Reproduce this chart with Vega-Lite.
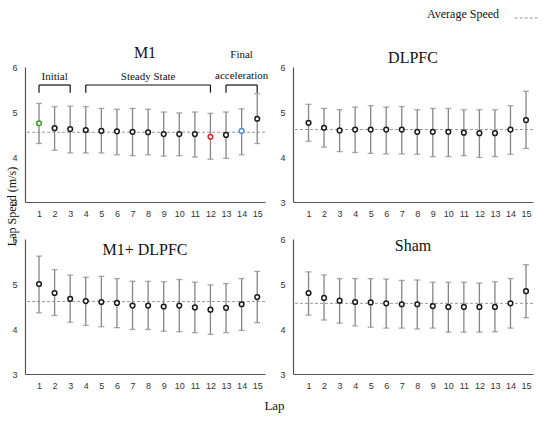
{
  "$schema": "https://vega.github.io/schema/vega-lite/v6.json",
  "description": "Lap speed (mean and SD) over 15 laps for four stimulation conditions.",
  "background": "white",
  "datasets": {
    "laps": [
      {"group": "M1", "lap": 1, "mean": 4.75, "low": 4.30, "high": 5.19, "highlight": "first"},
      {"group": "M1", "lap": 2, "mean": 4.64, "low": 4.15, "high": 5.12, "highlight": "none"},
      {"group": "M1", "lap": 3, "mean": 4.62, "low": 4.09, "high": 5.13, "highlight": "none"},
      {"group": "M1", "lap": 4, "mean": 4.60, "low": 4.09, "high": 5.12, "highlight": "none"},
      {"group": "M1", "lap": 5, "mean": 4.58, "low": 4.09, "high": 5.08, "highlight": "none"},
      {"group": "M1", "lap": 6, "mean": 4.57, "low": 4.05, "high": 5.06, "highlight": "none"},
      {"group": "M1", "lap": 7, "mean": 4.56, "low": 4.03, "high": 5.08, "highlight": "none"},
      {"group": "M1", "lap": 8, "mean": 4.55, "low": 4.05, "high": 5.06, "highlight": "none"},
      {"group": "M1", "lap": 9, "mean": 4.51, "low": 4.02, "high": 5.00, "highlight": "none"},
      {"group": "M1", "lap": 10, "mean": 4.51, "low": 4.03, "high": 4.98, "highlight": "none"},
      {"group": "M1", "lap": 11, "mean": 4.51, "low": 4.00, "high": 5.00, "highlight": "none"},
      {"group": "M1", "lap": 12, "mean": 4.45, "low": 3.95, "high": 4.97, "highlight": "slowest"},
      {"group": "M1", "lap": 13, "mean": 4.49, "low": 3.97, "high": 5.00, "highlight": "none"},
      {"group": "M1", "lap": 14, "mean": 4.58, "low": 4.05, "high": 5.07, "highlight": "final"},
      {"group": "M1", "lap": 15, "mean": 4.85, "low": 4.30, "high": 5.41, "highlight": "none"},

      {"group": "DLPFC", "lap": 1, "mean": 4.76, "low": 4.35, "high": 5.17, "highlight": "none"},
      {"group": "DLPFC", "lap": 2, "mean": 4.65, "low": 4.22, "high": 5.08, "highlight": "none"},
      {"group": "DLPFC", "lap": 3, "mean": 4.59, "low": 4.12, "high": 5.05, "highlight": "none"},
      {"group": "DLPFC", "lap": 4, "mean": 4.61, "low": 4.10, "high": 5.11, "highlight": "none"},
      {"group": "DLPFC", "lap": 5, "mean": 4.61, "low": 4.08, "high": 5.14, "highlight": "none"},
      {"group": "DLPFC", "lap": 6, "mean": 4.61, "low": 4.07, "high": 5.11, "highlight": "none"},
      {"group": "DLPFC", "lap": 7, "mean": 4.61, "low": 4.07, "high": 5.12, "highlight": "none"},
      {"group": "DLPFC", "lap": 8, "mean": 4.56, "low": 4.06, "high": 5.05, "highlight": "none"},
      {"group": "DLPFC", "lap": 9, "mean": 4.56, "low": 4.01, "high": 5.08, "highlight": "none"},
      {"group": "DLPFC", "lap": 10, "mean": 4.56, "low": 4.01, "high": 5.08, "highlight": "none"},
      {"group": "DLPFC", "lap": 11, "mean": 4.54, "low": 4.03, "high": 5.05, "highlight": "none"},
      {"group": "DLPFC", "lap": 12, "mean": 4.53, "low": 3.99, "high": 5.05, "highlight": "none"},
      {"group": "DLPFC", "lap": 13, "mean": 4.53, "low": 4.01, "high": 5.05, "highlight": "none"},
      {"group": "DLPFC", "lap": 14, "mean": 4.61, "low": 4.06, "high": 5.14, "highlight": "none"},
      {"group": "DLPFC", "lap": 15, "mean": 4.82, "low": 4.19, "high": 5.46, "highlight": "none"},

      {"group": "M1+ DLPFC", "lap": 1, "mean": 5.00, "low": 4.36, "high": 5.62, "highlight": "none"},
      {"group": "M1+ DLPFC", "lap": 2, "mean": 4.80, "low": 4.30, "high": 5.32, "highlight": "none"},
      {"group": "M1+ DLPFC", "lap": 3, "mean": 4.67, "low": 4.15, "high": 5.20, "highlight": "none"},
      {"group": "M1+ DLPFC", "lap": 4, "mean": 4.62, "low": 4.08, "high": 5.15, "highlight": "none"},
      {"group": "M1+ DLPFC", "lap": 5, "mean": 4.60, "low": 4.05, "high": 5.17, "highlight": "none"},
      {"group": "M1+ DLPFC", "lap": 6, "mean": 4.58, "low": 4.03, "high": 5.12, "highlight": "none"},
      {"group": "M1+ DLPFC", "lap": 7, "mean": 4.52, "low": 3.99, "high": 5.06, "highlight": "none"},
      {"group": "M1+ DLPFC", "lap": 8, "mean": 4.52, "low": 3.99, "high": 5.06, "highlight": "none"},
      {"group": "M1+ DLPFC", "lap": 9, "mean": 4.50, "low": 3.95, "high": 5.05, "highlight": "none"},
      {"group": "M1+ DLPFC", "lap": 10, "mean": 4.52, "low": 3.94, "high": 5.10, "highlight": "none"},
      {"group": "M1+ DLPFC", "lap": 11, "mean": 4.48, "low": 3.92, "high": 5.04, "highlight": "none"},
      {"group": "M1+ DLPFC", "lap": 12, "mean": 4.43, "low": 3.88, "high": 4.98, "highlight": "none"},
      {"group": "M1+ DLPFC", "lap": 13, "mean": 4.47, "low": 3.92, "high": 5.01, "highlight": "none"},
      {"group": "M1+ DLPFC", "lap": 14, "mean": 4.55, "low": 3.97, "high": 5.12, "highlight": "none"},
      {"group": "M1+ DLPFC", "lap": 15, "mean": 4.71, "low": 4.14, "high": 5.28, "highlight": "none"},

      {"group": "Sham", "lap": 1, "mean": 4.80, "low": 4.31, "high": 5.27, "highlight": "none"},
      {"group": "Sham", "lap": 2, "mean": 4.69, "low": 4.20, "high": 5.20, "highlight": "none"},
      {"group": "Sham", "lap": 3, "mean": 4.63, "low": 4.13, "high": 5.12, "highlight": "none"},
      {"group": "Sham", "lap": 4, "mean": 4.60, "low": 4.07, "high": 5.12, "highlight": "none"},
      {"group": "Sham", "lap": 5, "mean": 4.59, "low": 4.04, "high": 5.12, "highlight": "none"},
      {"group": "Sham", "lap": 6, "mean": 4.57, "low": 4.02, "high": 5.11, "highlight": "none"},
      {"group": "Sham", "lap": 7, "mean": 4.55, "low": 4.02, "high": 5.08, "highlight": "none"},
      {"group": "Sham", "lap": 8, "mean": 4.55, "low": 4.00, "high": 5.09, "highlight": "none"},
      {"group": "Sham", "lap": 9, "mean": 4.51, "low": 4.02, "high": 5.04, "highlight": "none"},
      {"group": "Sham", "lap": 10, "mean": 4.49, "low": 3.93, "high": 5.04, "highlight": "none"},
      {"group": "Sham", "lap": 11, "mean": 4.49, "low": 3.93, "high": 5.04, "highlight": "none"},
      {"group": "Sham", "lap": 12, "mean": 4.49, "low": 3.93, "high": 5.02, "highlight": "none"},
      {"group": "Sham", "lap": 13, "mean": 4.49, "low": 3.94, "high": 5.05, "highlight": "none"},
      {"group": "Sham", "lap": 14, "mean": 4.57, "low": 4.02, "high": 5.12, "highlight": "none"},
      {"group": "Sham", "lap": 15, "mean": 4.84, "low": 4.25, "high": 5.43, "highlight": "none"}
    ],
    "avg": [
      {"group": "M1", "speed": 4.55},
      {"group": "DLPFC", "speed": 4.61},
      {"group": "M1+ DLPFC", "speed": 4.61},
      {"group": "Sham", "speed": 4.57}
    ],
    "phases": [
      {"phase": "Initial", "start": 1, "end": 3, "center": 2, "line1": "Initial", "line2": ""},
      {"phase": "Steady State", "start": 4, "end": 12, "center": 8, "line1": "Steady State", "line2": ""},
      {"phase": "Final acceleration", "start": 13, "end": 15, "center": 14, "line1": "Final", "line2": "acceleration"}
    ]
  },
  "title": {
    "text": "Lap",
    "orient": "bottom",
    "anchor": "middle",
    "font": "Liberation Serif",
    "fontSize": 13,
    "fontWeight": "normal",
    "color": "#111",
    "offset": 10
  },
  "columns": 2,
  "spacing": {"row": 37, "column": 28},
  "bounds": "flush",
  "resolve": {"scale": {"strokeDash": "shared", "color": "shared"}, "legend": {"strokeDash": "shared"}},
  "concat": [
    {
      "width": 240,
      "height": 135,
      "title": {"text": "M1", "offset": -12},
      "layer": [
        {
          "data": {"name": "avg"},
          "transform": [{"filter": "datum.group == 'M1'"}],
          "mark": {"type": "rule", "color": "#9a9a9a", "strokeWidth": 1},
          "encoding": {
            "y": {"field": "speed", "type": "quantitative", "title": "Lap Speed (m/s)", "scale": {"domain": [3, 6]},
                  "axis": {"values": [3, 4, 5, 6], "title": "Lap Speed (m/s)", "titleFontSize": 12, "titleX": -14, "titleY": 139, "titleAngle": -90, "titleBaseline": "middle", "titleAnchor": "middle"}},
            "strokeDash": {"datum": "Average Speed", "type": "nominal", "scale": {"domain": ["Average Speed"], "range": [[3, 2]]},
                           "legend": {"title": "Average Speed", "titleOrient": "left", "labelExpr": "''", "orient": "none", "legendX": 402, "legendY": -62}}
          }
        },
        {
          "data": {"name": "laps"},
          "transform": [{"filter": "datum.group == 'M1'"}],
          "mark": {"type": "errorbar", "orient": "vertical", "color": "#858585", "thickness": 1.3, "ticks": {"size": 6, "color": "#858585", "thickness": 1.3}},
          "encoding": {
            "x": {"field": "lap", "type": "quantitative", "scale": {"domain": [0.1, 15.5], "nice": false},
                  "axis": {"title": null, "tickCount": 15, "labelOverlap": false, "values": [1, 2, 3, 4, 5, 6, 7, 8, 9, 10, 11, 12, 13, 14, 15]}},
            "y": {"field": "low", "type": "quantitative", "title": "Lap Speed (m/s)", "scale": {"domain": [3, 6]}},
            "y2": {"field": "high"}
          }
        },
        {
          "data": {"name": "laps"},
          "transform": [{"filter": "datum.group == 'M1'"}],
          "mark": {"type": "point", "filled": false, "fill": "white", "fillOpacity": 1, "size": 22, "strokeWidth": 1.5, "opacity": 1},
          "encoding": {
            "x": {"field": "lap", "type": "quantitative"},
            "y": {"field": "mean", "type": "quantitative", "title": "Lap Speed (m/s)"},
            "stroke": {"field": "highlight", "type": "nominal", "legend": null,
                       "scale": {"domain": ["none", "first", "slowest", "final"], "range": ["#1a1a1a", "#3f9a2c", "#e3262b", "#4a93d6"]}}
          }
        },
        {
          "data": {"name": "phases"},
          "mark": {"type": "rule", "color": "#111", "strokeWidth": 1.2},
          "encoding": {
            "x": {"field": "start", "type": "quantitative"},
            "x2": {"field": "end"},
            "y": {"datum": 5.6}
          }
        },
        {
          "data": {"name": "phases"},
          "transform": [{"fold": ["start", "end"], "as": ["side", "pos"]}],
          "mark": {"type": "rule", "color": "#111", "strokeWidth": 1.2},
          "encoding": {
            "x": {"field": "pos", "type": "quantitative"},
            "y": {"datum": 5.6},
            "y2": {"datum": 5.43}
          }
        },
        {
          "data": {"name": "phases"},
          "transform": [{"filter": "datum.line2 == ''"}],
          "mark": {"type": "text", "font": "Liberation Serif", "fontSize": 11, "color": "#111", "baseline": "bottom", "dy": -3},
          "encoding": {
            "x": {"field": "center", "type": "quantitative"},
            "y": {"datum": 5.6},
            "text": {"field": "line1"}
          }
        },
        {
          "data": {"name": "phases"},
          "transform": [{"filter": "datum.line2 != ''"}],
          "mark": {"type": "text", "font": "Liberation Serif", "fontSize": 11, "color": "#111", "baseline": "bottom", "dy": -4},
          "encoding": {
            "x": {"field": "center", "type": "quantitative"},
            "y": {"datum": 5.6},
            "text": {"field": "line2"}
          }
        },
        {
          "data": {"name": "phases"},
          "transform": [{"filter": "datum.line2 != ''"}],
          "mark": {"type": "text", "font": "Liberation Serif", "fontSize": 11, "color": "#111", "baseline": "bottom", "dy": -25},
          "encoding": {
            "x": {"field": "center", "type": "quantitative"},
            "y": {"datum": 5.6},
            "text": {"field": "line1"}
          }
        }
      ]
    },
    {
      "width": 240,
      "height": 135,
      "title": {"text": "DLPFC", "offset": -3},
      "layer": [
        {
          "data": {"name": "avg"},
          "transform": [{"filter": "datum.group == 'DLPFC'"}],
          "mark": {"type": "rule", "color": "#9a9a9a", "strokeWidth": 1},
          "encoding": {
            "y": {"field": "speed", "type": "quantitative", "title": null, "scale": {"domain": [3, 6]}, "axis": {"title": null, "values": [3, 4, 5, 6]}},
            "strokeDash": {"datum": "Average Speed", "type": "nominal", "scale": {"domain": ["Average Speed"], "range": [[3, 2]]},
                           "legend": {"title": "Average Speed", "titleOrient": "left", "labelExpr": "''", "orient": "none", "legendX": 402, "legendY": -62}}
          }
        },
        {
          "data": {"name": "laps"},
          "transform": [{"filter": "datum.group == 'DLPFC'"}],
          "mark": {"type": "errorbar", "orient": "vertical", "color": "#858585", "thickness": 1.3, "ticks": {"size": 6, "color": "#858585", "thickness": 1.3}},
          "encoding": {
            "x": {"field": "lap", "type": "quantitative", "scale": {"domain": [0, 15.45], "nice": false},
                  "axis": {"title": null, "tickCount": 15, "labelOverlap": false, "values": [1, 2, 3, 4, 5, 6, 7, 8, 9, 10, 11, 12, 13, 14, 15]}},
            "y": {"field": "low", "type": "quantitative", "title": null, "scale": {"domain": [3, 6]}},
            "y2": {"field": "high"}
          }
        },
        {
          "data": {"name": "laps"},
          "transform": [{"filter": "datum.group == 'DLPFC'"}],
          "mark": {"type": "point", "filled": false, "fill": "white", "fillOpacity": 1, "size": 22, "strokeWidth": 1.5, "opacity": 1},
          "encoding": {
            "x": {"field": "lap", "type": "quantitative"},
            "y": {"field": "mean", "type": "quantitative", "title": null},
            "stroke": {"field": "highlight", "type": "nominal", "legend": null,
                       "scale": {"domain": ["none", "first", "slowest", "final"], "range": ["#1a1a1a", "#3f9a2c", "#e3262b", "#4a93d6"]}}
          }
        }
      ]
    },
    {
      "width": 240,
      "height": 135,
      "title": {"text": "M1+ DLPFC", "offset": -23},
      "layer": [
        {
          "data": {"name": "avg"},
          "transform": [{"filter": "datum.group == 'M1+ DLPFC'"}],
          "mark": {"type": "rule", "color": "#9a9a9a", "strokeWidth": 1},
          "encoding": {
            "y": {"field": "speed", "type": "quantitative", "title": null, "scale": {"domain": [3, 6]}, "axis": {"title": null, "values": [3, 4, 5, 6]}},
            "strokeDash": {"datum": "Average Speed", "type": "nominal", "scale": {"domain": ["Average Speed"], "range": [[3, 2]]},
                           "legend": {"title": "Average Speed", "titleOrient": "left", "labelExpr": "''", "orient": "none", "legendX": 402, "legendY": -62}}
          }
        },
        {
          "data": {"name": "laps"},
          "transform": [{"filter": "datum.group == 'M1+ DLPFC'"}],
          "mark": {"type": "errorbar", "orient": "vertical", "color": "#858585", "thickness": 1.3, "ticks": {"size": 6, "color": "#858585", "thickness": 1.3}},
          "encoding": {
            "x": {"field": "lap", "type": "quantitative", "scale": {"domain": [0.1, 15.5], "nice": false},
                  "axis": {"title": null, "tickCount": 15, "labelOverlap": false, "values": [1, 2, 3, 4, 5, 6, 7, 8, 9, 10, 11, 12, 13, 14, 15]}},
            "y": {"field": "low", "type": "quantitative", "title": null, "scale": {"domain": [3, 6]}},
            "y2": {"field": "high"}
          }
        },
        {
          "data": {"name": "laps"},
          "transform": [{"filter": "datum.group == 'M1+ DLPFC'"}],
          "mark": {"type": "point", "filled": false, "fill": "white", "fillOpacity": 1, "size": 22, "strokeWidth": 1.5, "opacity": 1},
          "encoding": {
            "x": {"field": "lap", "type": "quantitative"},
            "y": {"field": "mean", "type": "quantitative", "title": null},
            "stroke": {"field": "highlight", "type": "nominal", "legend": null,
                       "scale": {"domain": ["none", "first", "slowest", "final"], "range": ["#1a1a1a", "#3f9a2c", "#e3262b", "#4a93d6"]}}
          }
        }
      ]
    },
    {
      "width": 240,
      "height": 135,
      "title": {"text": "Sham", "offset": -19},
      "layer": [
        {
          "data": {"name": "avg"},
          "transform": [{"filter": "datum.group == 'Sham'"}],
          "mark": {"type": "rule", "color": "#9a9a9a", "strokeWidth": 1},
          "encoding": {
            "y": {"field": "speed", "type": "quantitative", "title": null, "scale": {"domain": [3, 6]}, "axis": {"title": null, "values": [3, 4, 5, 6]}},
            "strokeDash": {"datum": "Average Speed", "type": "nominal", "scale": {"domain": ["Average Speed"], "range": [[3, 2]]},
                           "legend": {"title": "Average Speed", "titleOrient": "left", "labelExpr": "''", "orient": "none", "legendX": 402, "legendY": -62}}
          }
        },
        {
          "data": {"name": "laps"},
          "transform": [{"filter": "datum.group == 'Sham'"}],
          "mark": {"type": "errorbar", "orient": "vertical", "color": "#858585", "thickness": 1.3, "ticks": {"size": 6, "color": "#858585", "thickness": 1.3}},
          "encoding": {
            "x": {"field": "lap", "type": "quantitative", "scale": {"domain": [0, 15.45], "nice": false},
                  "axis": {"title": null, "tickCount": 15, "labelOverlap": false, "values": [1, 2, 3, 4, 5, 6, 7, 8, 9, 10, 11, 12, 13, 14, 15]}},
            "y": {"field": "low", "type": "quantitative", "title": null, "scale": {"domain": [3, 6]}},
            "y2": {"field": "high"}
          }
        },
        {
          "data": {"name": "laps"},
          "transform": [{"filter": "datum.group == 'Sham'"}],
          "mark": {"type": "point", "filled": false, "fill": "white", "fillOpacity": 1, "size": 22, "strokeWidth": 1.5, "opacity": 1},
          "encoding": {
            "x": {"field": "lap", "type": "quantitative"},
            "y": {"field": "mean", "type": "quantitative", "title": null},
            "stroke": {"field": "highlight", "type": "nominal", "legend": null,
                       "scale": {"domain": ["none", "first", "slowest", "final"], "range": ["#1a1a1a", "#3f9a2c", "#e3262b", "#4a93d6"]}}
          }
        }
      ]
    }
  ],
  "config": {
    "view": {"stroke": null},
    "title": {"font": "Liberation Serif", "fontSize": 16, "fontWeight": "normal", "color": "#111", "anchor": "middle"},
    "axis": {
      "grid": false,
      "ticks": false,
      "domainColor": "#555",
      "domainWidth": 1.2,
      "labelFont": "Liberation Sans",
      "labelFontSize": 9,
      "labelColor": "#333",
      "titleFont": "Liberation Serif",
      "titleFontSize": 13,
      "titleFontWeight": "normal",
      "titleColor": "#111"
    },
    "axisX": {"format": "d", "labelPadding": 7, "labelFlush": false, "labelOverlap": false},
    "axisY": {"format": "d", "labelPadding": 8},
    "legend": {
      "titleFont": "Liberation Serif",
      "titleFontSize": 12,
      "titleFontWeight": "normal",
      "titleColor": "#111",
      "titlePadding": 14,
      "symbolType": "stroke",
      "symbolSize": 600,
      "symbolStrokeColor": "#9a9a9a",
      "symbolStrokeWidth": 1
    }
  }
}
